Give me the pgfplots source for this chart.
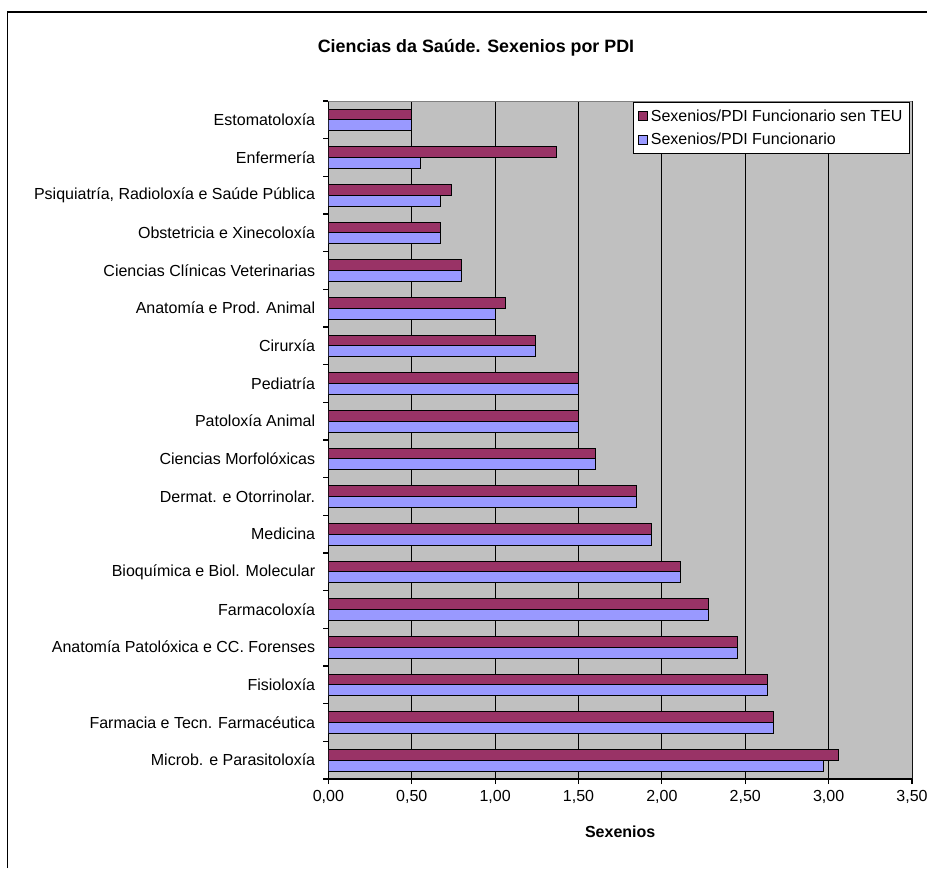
\documentclass[border=0pt]{standalone}
\usepackage{pgfplots}
\pgfplotsset{compat=1.18}
\usepackage{fontspec}
\setmainfont{Liberation Sans}
\definecolor{teu}{HTML}{993366}
\definecolor{func}{HTML}{9999FF}
\definecolor{plotbg}{HTML}{C0C0C0}
\begin{document}
\begin{tikzpicture}
\begin{axis}[
  at={(0pt,0pt)}, anchor=south west,
  scale only axis,
  width=437.7pt, height=508.5pt,
  xmin=0, xmax=3.5,
  ymin=-0.5, ymax=17.5,
  xbar,
  bar width=8.07pt,
  axis background/.style={fill=plotbg},
  axis x line*=bottom, axis y line*=left,
  axis line style={black, line width=0.9pt},
  xtick={0,0.5,...,3.5},
  xmajorgrids, major grid style={black, line width=0.7pt},
  tick align=outside,
  major tick length=3.75pt,
  tick style={black, line width=0.8pt},
  ytick={0,...,17},
  major y tick style={draw=none},
  minor ytick={-0.5,0.5,...,17.5},
  minor tick length=3.75pt,
  minor y tick style={black, line width=0.8pt},
  yticklabels={Microb. e Parasitoloxía, Farmacia e Tecn. Farmacéutica, Fisioloxía, Anatomía Patolóxica e CC. Forenses, Farmacoloxía, Bioquímica e Biol. Molecular, Medicina, Dermat. e Otorrinolar., Ciencias Morfolóxicas, Patoloxía Animal, Pediatría, Cirurxía, Anatomía e Prod. Animal, Ciencias Clínicas Veterinarias, Obstetricia e Xinecoloxía, {Psiquiatría, Radioloxía e Saúde Pública}, Enfermería, Estomatoloxía},
  yticklabel style={font=\fontsize{12}{14}\selectfont, anchor=east, inner sep=0pt, xshift=-6pt},
  xticklabel style={font=\fontsize{12}{14}\selectfont, yshift=-1.5pt},
  /pgf/number format/.cd, fixed, fixed zerofill, precision=2, use comma, assume math mode=true,
  /pgfplots/.cd,
  xlabel={\bfseries Sexenios},
  xlabel style={font=\fontsize{12}{14}\selectfont, at={(axis description cs:0.5,0)}, anchor=center, yshift=-39.75pt},
  legend style={at={(0.997,0.998)}, anchor=north east, draw=black, fill=white, line width=0.6pt,
    font=\fontsize{12}{14}\selectfont, inner xsep=3pt, inner ysep=3pt, row sep=3.5pt, cells={anchor=west},
    nodes={inner xsep=2.5pt}},
  legend image code/.code={\draw[#1, draw=black, line width=0.5pt] (0pt,-3.4pt) rectangle (6.8pt,3.4pt);},
]
\addplot[fill=teu, draw=black, line width=0.6pt, bar shift=4.035pt] coordinates {
 (3.06,0) (2.67,1) (2.63,2) (2.45,3) (2.28,4) (2.11,5) (1.94,6) (1.85,7) (1.60,8)
 (1.50,9) (1.50,10) (1.24,11) (1.06,12) (0.80,13) (0.67,14) (0.74,15) (1.37,16) (0.50,17)
};
\addplot[fill=func, draw=black, line width=0.6pt, bar shift=-4.035pt] coordinates {
 (2.97,0) (2.67,1) (2.63,2) (2.45,3) (2.28,4) (2.11,5) (1.94,6) (1.85,7) (1.60,8)
 (1.50,9) (1.50,10) (1.24,11) (1.00,12) (0.80,13) (0.67,14) (0.67,15) (0.55,16) (0.50,17)
};
\legend{Sexenios/PDI Funcionario sen TEU, Sexenios/PDI Funcionario}
\draw[gray, line width=0.6pt] (rel axis cs:0,1) -- (rel axis cs:1,1) -- (rel axis cs:1,0);
\end{axis}
\node[font=\bfseries\fontsize{13.4}{16}\selectfont] at (110.7pt,548.25pt) {Ciencias da Saúde. Sexenios por PDI};
\draw[black, line width=1.3pt] (-240.675pt,-66.75pt) -- (-240.675pt,575.25pt) -- (448.95pt,575.25pt);
\pgfresetboundingbox
\path[use as bounding box] (-246.3pt,-66.75pt) rectangle (448.95pt,584.25pt);
\end{tikzpicture}
\end{document}
